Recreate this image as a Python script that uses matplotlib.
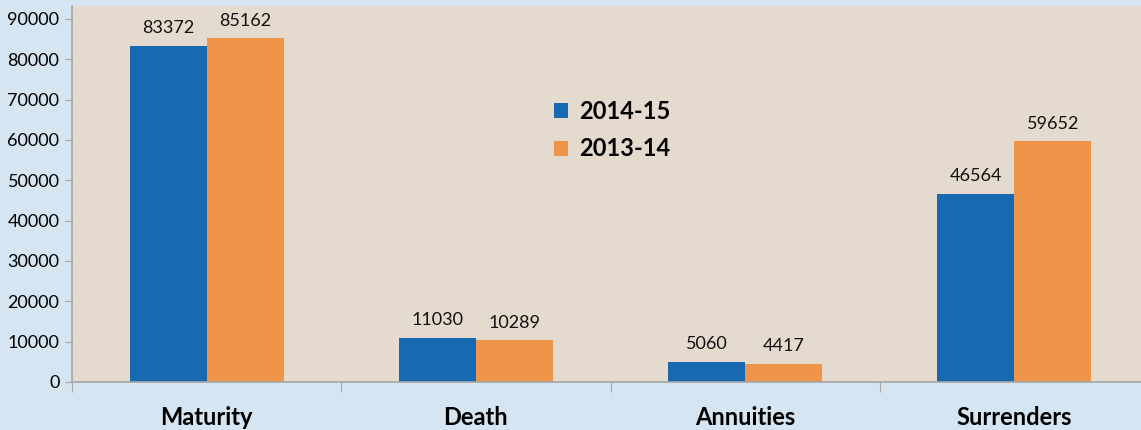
import numpy as np
import matplotlib
matplotlib.use("Agg")
import matplotlib.pyplot as plt

categories = ["Maturity", "Death", "Annuities", "Surrenders"]
series_names = ["2014-15", "2013-14"]
values_2014_15 = [83372, 11030, 5060, 46564]
values_2013_14 = [85162, 10289, 4417, 59652]
yticks = [0, 10000, 20000, 30000, 40000, 50000, 60000, 70000, 80000, 90000]

blue = "#1769b2"
orange = "#ee9549"
axis_gray = "#a6a6a6"

plt.rcParams["font.family"] = ["Lato", "DejaVu Sans"]

W, H = 1141, 430
fig = plt.figure(figsize=(W / 100, H / 100), dpi=100)
fig.patch.set_facecolor("#d5e5f2")

# plot area in pixels: left 72, right ~1149 (runs off the edge), top 6, bottom 382
left, right, top, bottom = 72, 1149, 6, 382
ax = fig.add_axes([left / W, 1 - bottom / H, (right - left) / W, (bottom - top) / H])
ax.set_facecolor("#e4dacd")

x = np.arange(len(categories))
w = 0.286
b1 = ax.bar(x - w / 2, values_2014_15, w, color=blue, label=series_names[0], zorder=2)
b2 = ax.bar(x + w / 2, values_2013_14, w, color=orange, label=series_names[1], zorder=2)

for bars, vals in ((b1, values_2014_15), (b2, values_2013_14)):
    for rect, v in zip(bars, vals):
        ax.annotate(str(v), (rect.get_x() + rect.get_width() / 2, v),
                    xytext=(0, 7), textcoords="offset points",
                    ha="center", va="bottom", fontsize=13, color="#111111")

ax.set_xlim(-0.5, len(categories) - 0.5)
ax.set_ylim(0, 93200)
ax.set_yticks(yticks)
ax.set_yticklabels([str(t) for t in yticks], fontsize=13)

# category boundaries carry the ticks, names sit in the middle
ax.set_xticks(np.arange(-0.5, len(categories), 1.0))
ax.set_xticklabels([])
ax.set_xticks(x, minor=True)
ax.set_xticklabels(categories, minor=True, fontsize=17, fontweight="bold")
ax.tick_params(axis="x", which="minor", length=0, pad=17)
ax.tick_params(axis="x", which="major", length=7, color=axis_gray)
ax.tick_params(axis="y", length=5, color=axis_gray, pad=4)

for s in ("top", "right"):
    ax.spines[s].set_visible(False)
for s in ("left", "bottom"):
    ax.spines[s].set_color(axis_gray)
    ax.spines[s].set_linewidth(1.2)

leg = ax.legend(loc="upper left", bbox_to_anchor=((533 - left) / (right - left), (bottom - 79) / (bottom - top)),
                frameon=False, prop={"size": 17, "weight": "bold"},
                handlelength=0.6, handleheight=0.6, handletextpad=0.45, labelspacing=0.6)

fig.savefig("out.png", dpi=100, facecolor=fig.get_facecolor())
